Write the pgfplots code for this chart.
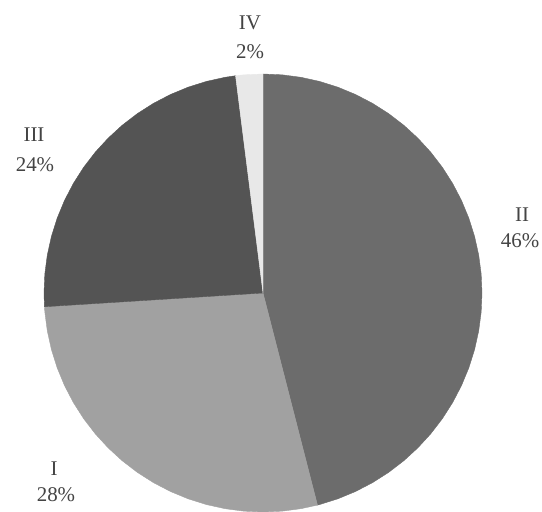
\documentclass[border=0pt]{standalone}
\usepackage{pgfplots}
\pgfplotsset{compat=1.18}
\usepackage{fontspec}
\setmainfont{Liberation Serif}
\definecolor{cII}{HTML}{6C6C6C}
\definecolor{cI}{HTML}{A1A1A1}
\definecolor{cIII}{HTML}{545454}
\definecolor{cIV}{HTML}{E8E8E8}
\definecolor{txt}{HTML}{444444}
\tikzset{lbl/.style={font=\fontsize{21}{25}\selectfont, text=txt, inner sep=0pt}}
\begin{document}
\begin{tikzpicture}
\begin{axis}[
  width=542bp, height=512bp, scale only axis,
  xmin=-263, xmax=279, ymin=-219, ymax=293,
  hide axis, clip=false,
  data cs=polar,
  every axis plot/.append style={line width=0.4pt},
]
% II 46%
\addplot[fill=cII, draw=cII] coordinates {(0,0) (90,219) (85,219) (80,219) (75,219) (70,219) (65,219) (60,219) (55,219) (50,219) (45,219) (40,219) (35,219) (30,219) (25,219) (20,219) (15,219) (10,219) (5,219) (0,219) (-5,219) (-10,219) (-15,219) (-20,219) (-25,219) (-30,219) (-35,219) (-40,219) (-45,219) (-50,219) (-55,219) (-60,219) (-65,219) (-70,219) (-75,219) (-75.6,219) (0,0)} -- cycle;
% I 28%
\addplot[fill=cI, draw=cI] coordinates {(0,0) (-75.6,219) (-80,219) (-85,219) (-90,219) (-95,219) (-100,219) (-105,219) (-110,219) (-115,219) (-120,219) (-125,219) (-130,219) (-135,219) (-140,219) (-145,219) (-150,219) (-155,219) (-160,219) (-165,219) (-170,219) (-175,219) (-176.4,219) (0,0)} -- cycle;
% III 24%
\addplot[fill=cIII, draw=cIII] coordinates {(0,0) (-176.4,219) (-180,219) (-185,219) (-190,219) (-195,219) (-200,219) (-205,219) (-210,219) (-215,219) (-220,219) (-225,219) (-230,219) (-235,219) (-240,219) (-245,219) (-250,219) (-255,219) (-260,219) (-262.8,219) (0,0)} -- cycle;
% IV 2%
\addplot[fill=cIV, draw=cIV] coordinates {(0,0) (-262.8,219) (-265,219) (-270,219) (0,0)} -- cycle;
\node[lbl] at (axis cs:-13,270) {IV};
\node[lbl] at (axis cs:-13,241) {2\%};
\node[lbl] at (axis cs:-229,158) {III};
\node[lbl] at (axis cs:-228,128) {24\%};
\node[lbl] at (axis cs:259,78) {II};
\node[lbl] at (axis cs:257,52) {46\%};
\node[lbl] at (axis cs:-209,-176) {I};
\node[lbl] at (axis cs:-207,-202) {28\%};
\end{axis}
\pgfresetboundingbox
\path[use as bounding box] (current axis.south west) rectangle (current axis.north east);
\end{tikzpicture}
\end{document}
